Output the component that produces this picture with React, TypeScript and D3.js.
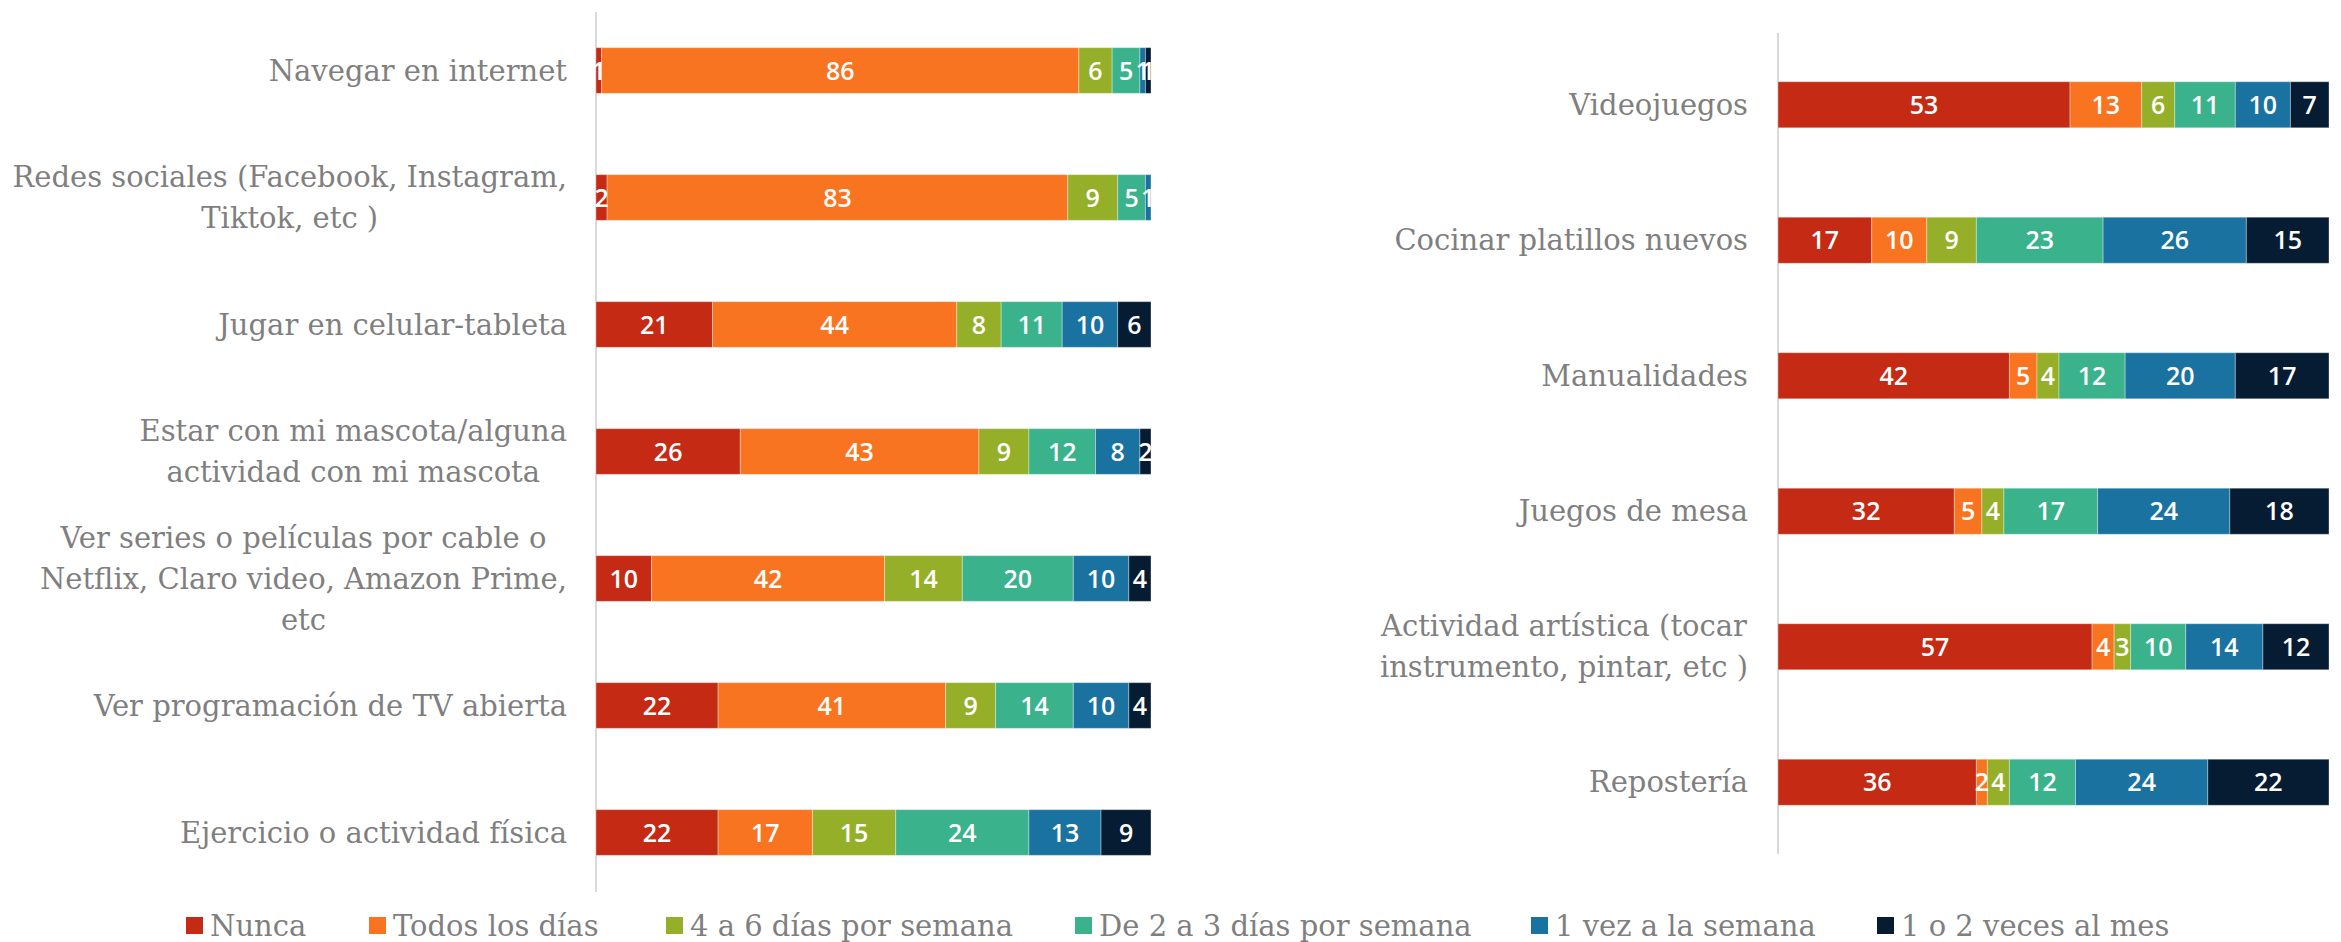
import React, { useRef, useEffect } from "react";
import * as d3 from "d3";

const series = [
  "Nunca",
  "Todos los días",
  "4 a 6 días por semana",
  "De 2 a 3 días por semana",
  "1 vez a la semana",
  "1 o 2 veces al mes",
];
const colors = ["#c42a14", "#f97420", "#95af28", "#3ab28c", "#1a72a0", "#061c33"];

const leftCategories = [
  ["Navegar en internet"],
  ["Redes sociales (Facebook, Instagram,", "Tiktok, etc )"],
  ["Jugar en celular-tableta"],
  ["Estar con mi mascota/alguna", "actividad con mi mascota"],
  ["Ver series o películas por cable o", "Netflix, Claro video, Amazon Prime,", "etc"],
  ["Ver programación de TV abierta "],
  ["Ejercicio o actividad física"],
];
const leftValues = [
  [1, 86, 6, 5, 1, 1],
  [2, 83, 9, 5, 1, 0],
  [21, 44, 8, 11, 10, 6],
  [26, 43, 9, 12, 8, 2],
  [10, 42, 14, 20, 10, 4],
  [22, 41, 9, 14, 10, 4],
  [22, 17, 15, 24, 13, 9],
];

const rightCategories = [
  ["Videojuegos"],
  ["Cocinar platillos nuevos"],
  ["Manualidades"],
  ["Juegos de mesa"],
  ["Actividad artística (tocar", "instrumento, pintar, etc )"],
  ["Repostería"],
];
const rightValues = [
  [53, 13, 6, 11, 10, 7],
  [17, 10, 9, 23, 26, 15],
  [42, 5, 4, 12, 20, 17],
  [32, 5, 4, 17, 24, 18],
  [57, 4, 3, 10, 14, 12],
  [36, 2, 4, 12, 24, 22],
];

const labelFont = "'DejaVu Serif', serif";
const numFont = "'Open Sans', sans-serif";

function drawPanel(svg, cats, vals, x0, x1, y0, y1, axisY, labelRight, padding) {
  const g = svg.append("g");
  const x = d3.scaleLinear().domain([0, 100]).range([x0, x1]);
  const y = d3
    .scaleBand()
    .domain(cats.map((d, i) => String(i)))
    .range([y0, y1])
    .paddingInner(padding)
    .paddingOuter(padding / 2);

  // vertical category axis line
  g.append("line")
    .attr("x1", x0)
    .attr("x2", x0)
    .attr("y1", axisY[0])
    .attr("y2", axisY[1])
    .attr("stroke", "#d9d9d9")
    .attr("stroke-width", 2);

  vals.forEach((row, i) => {
    const stacked = d3.cumsum(row);
    const band = y(String(i));
    row.forEach((v, j) => {
      if (v === 0) return;
      const start = stacked[j] - v;
      g.append("rect")
        .attr("x", x(start))
        .attr("y", band)
        .attr("width", x(start + v) - x(start))
        .attr("height", y.bandwidth())
        .attr("fill", colors[j])
        .attr("stroke", "#ffffff")
        .attr("stroke-opacity", 0.35)
        .attr("stroke-width", 1);
    });
    row.forEach((v, j) => {
      if (v === 0) return;
      const start = stacked[j] - v;
      g.append("text")
        .attr("x", x(start + v / 2))
        .attr("y", band + y.bandwidth() / 2)
        .attr("dy", "0.36em")
        .attr("text-anchor", "middle")
        .attr("fill", "#ffffff")
        .style("font-family", numFont)
        .style("font-weight", 600)
        .style("font-size", "25px")
        .text(v);
    });

    // category label: lines centred on each other, longest line ends at labelRight
    const lines = cats[i];
    const lineH = 41;
    const cy = band + y.bandwidth() / 2;
    const t = g
      .append("text")
      .attr("fill", "#7f7f7f")
      .attr("text-anchor", "middle")
      .style("font-family", labelFont)
      .style("font-size", "29px");
    const spans = lines.map((ln, k) =>
      t
        .append("tspan")
        .attr("y", cy + (k - (lines.length - 1) / 2) * lineH)
        .attr("dy", "0.35em")
        .text(ln)
    );
    const maxW = d3.max(spans, (s) => s.node().getComputedTextLength());
    spans.forEach((s) => s.attr("x", labelRight - maxW / 2));
  });
}

export default function App() {
  const ref = useRef(null);

  useEffect(() => {
    const svg = d3.select(ref.current);
    svg.selectAll("*").remove();

    drawPanel(svg, leftCategories, leftValues, 596, 1151, 7, 896, [12, 892], 567, 0.64);
    drawPanel(svg, rightCategories, rightValues, 1778, 2329, 37, 850, [33, 854], 1748, 0.66);

    // legend
    const legendX = [186, 369, 666, 1075, 1531, 1877];
    const lg = svg.append("g");
    series.forEach((s, i) => {
      lg.append("rect")
        .attr("x", legendX[i])
        .attr("y", 917)
        .attr("width", 17)
        .attr("height", 17)
        .attr("fill", colors[i]);
      lg.append("text")
        .attr("x", legendX[i] + 24)
        .attr("y", 926)
        .attr("dy", "0.35em")
        .attr("fill", "#7f7f7f")
        .style("font-family", labelFont)
        .style("font-size", "29px")
        .text(s);
    });
  }, []);

  return (
    <svg
      ref={ref}
      width={2341}
      height={942}
      style={{ position: "absolute", left: 0, top: 0, background: "#fff" }}
    ></svg>
  );
}
